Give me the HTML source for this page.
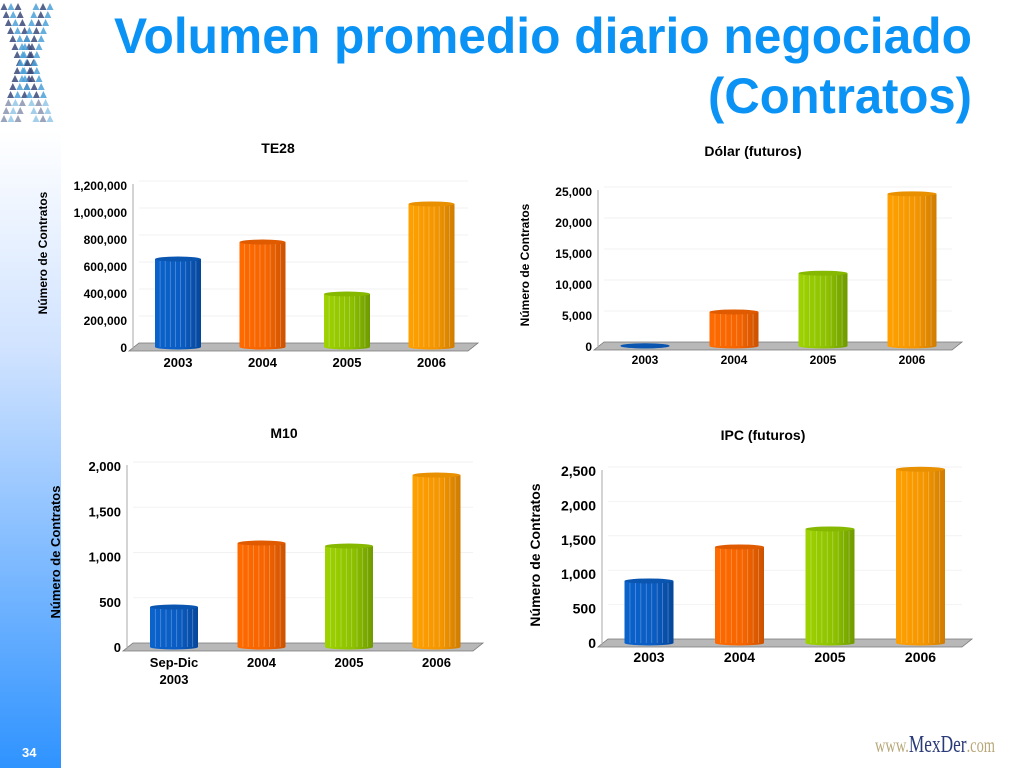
<!DOCTYPE html>
<html><head><meta charset="utf-8"><style>
html,body{margin:0;padding:0;background:#fff;}
svg{display:block;font-family:"Liberation Sans",Arial,sans-serif;}
</style></head><body>
<svg id="s" width="1024" height="768" viewBox="0 0 1024 768">
<defs>
<linearGradient id="side" x1="0" y1="0" x2="0" y2="1">
<stop offset="0" stop-color="#ffffff"/><stop offset="0.35" stop-color="#cfe2ff"/><stop offset="1" stop-color="#2f93ff"/>
</linearGradient>
<linearGradient id="gBlue" x1="0" x2="1"><stop offset="0" stop-color="#0a62cc"/><stop offset="0.6" stop-color="#0a5cc2"/><stop offset="1" stop-color="#06469a"/></linearGradient>
<linearGradient id="gOrange" x1="0" x2="1"><stop offset="0" stop-color="#ff6a00"/><stop offset="0.6" stop-color="#f56400"/><stop offset="1" stop-color="#cc5200"/></linearGradient>
<linearGradient id="gGreen" x1="0" x2="1"><stop offset="0" stop-color="#9ed300"/><stop offset="0.6" stop-color="#8cc000"/><stop offset="1" stop-color="#6f9a00"/></linearGradient>
<linearGradient id="gAmber" x1="0" x2="1"><stop offset="0" stop-color="#ffa000"/><stop offset="0.6" stop-color="#f39500"/><stop offset="1" stop-color="#cf7c00"/></linearGradient>
</defs>
<rect x="0" y="130" width="61" height="638" fill="url(#side)"/>
<text x="22" y="757" font-size="13" font-weight="bold" fill="#fff">34</text>
<g id="logo"></g>
<text x="972" y="53" text-anchor="end" font-size="50" font-weight="bold" fill="#0a93f5" textLength="858" lengthAdjust="spacingAndGlyphs">Volumen promedio diario negociado</text>
<text x="972" y="113" text-anchor="end" font-size="50" font-weight="bold" fill="#0a93f5" textLength="264" lengthAdjust="spacingAndGlyphs">(Contratos)</text>
<text x="875" y="752" font-family="Liberation Serif,serif" font-size="20" fill="#b8a878" textLength="120" lengthAdjust="spacingAndGlyphs">www.<tspan fill="#2a3a78" font-size="24">MexDer</tspan>.com</text>
</svg>
<script>
// ---- data ----
const te28Categories = ["2003","2004","2005","2006"];
const te28Values = [659000, 785000, 400000, 1067000];
const te28Ticks = [0,200000,400000,600000,800000,1000000,1200000];
const dolarCategories = ["2003","2004","2005","2006"];
const dolarValues = [200, 5650, 11900, 24700];
const dolarTicks = [0,5000,10000,15000,20000,25000];
const m10Categories = ["Sep-Dic|2003","2004","2005","2006"];
const m10Values = [453, 1160, 1127, 1911];
const m10Ticks = [0,500,1000,1500,2000];
const ipcCategories = ["2003","2004","2005","2006"];
const ipcValues = [916, 1410, 1672, 2540];
const ipcTicks = [0,500,1000,1500,2000,2500];

const NS="http://www.w3.org/2000/svg";
const svg=document.getElementById('s');
function mk(tag,attrs,parent){const e=document.createElementNS(NS,tag);for(const k in attrs)e.setAttribute(k,attrs[k]);(parent||svg).appendChild(e);return e;}
const fills=["url(#gBlue)","url(#gOrange)","url(#gGreen)","url(#gAmber)"];
const tops=["#0a55b0","#e05a00","#86b800","#e89000"];
const fmt=v=>v.toLocaleString('en-US');

function chart(cfg,cats,vals,ticks){
  const g=mk('g',{});
  
  
  const max=ticks[ticks.length-1];
  const y=v=>cfg.y0-(v/max)*(cfg.y0-cfg.yTop);
  const xc=i=>cfg.x0+cfg.firstC+i*cfg.step;
  ticks.forEach((t,i)=>{ if(i===0)return;
    const l=mk('line',{x1:cfg.x0+6,x2:cfg.xEnd,y1:y(t)-5,y2:y(t)-5,stroke:'#f2f2f2','stroke-width':1},g);
    
    
  });
  const f=mk('polygon',{points:`${cfg.x0-4},${cfg.y0+3} ${cfg.xEnd},${cfg.y0+3} ${cfg.xEnd+10},${cfg.y0-5} ${cfg.x0+6},${cfg.y0-5}`,fill:'#b8b8b8',stroke:'#777','stroke-width':0.8},g);
  
  
  const ax=mk('line',{x1:cfg.x0,x2:cfg.x0,y1:cfg.yTop-2,y2:cfg.y0+3,stroke:'#aaa','stroke-width':1},g);
  
  
  ticks.forEach(t=>{
    const tx=mk('text',{x:cfg.x0-6,y:y(t)+4,'text-anchor':'end','font-size':cfg.tf,'font-weight':'bold',fill:'#000'},g);
    tx.textContent=fmt(t);
    
    
  });
  vals.forEach((v,i)=>{
    const bw=cfg.bw, cx=xc(i), x=cx-bw/2, top=y(v), bot=cfg.y0-1;
    const b=mk('g',{},g);
    
    
    mk('rect',{x:x,y:top,width:bw,height:Math.max(0,bot-top),fill:fills[i]},b);
    mk('ellipse',{cx:cx,cy:bot,rx:bw/2,ry:2.5,fill:fills[i]},b);
    for(let k=1;k<9;k++){const lx=x+k*bw/9;
      mk('line',{x1:lx,x2:lx,y1:top+2,y2:bot,stroke:'rgba(255,255,255,0.3)','stroke-width':0.8},b);}
    mk('ellipse',{cx:cx,cy:top,rx:bw/2,ry:2.5,fill:tops[i]},b);
  });
  cats.forEach((c,i)=>{
    c.split('|').forEach((p,j)=>{
      const tx=mk('text',{x:xc(i),y:cfg.xly+j*17,'text-anchor':'middle','font-size':cfg.xf,'font-weight':'bold',fill:'#000'},g);
      tx.textContent=p;
      
      
    });
  });
  const ti=mk('text',{x:cfg.tx,y:cfg.ty,'text-anchor':'middle','font-size':14,'font-weight':'bold',fill:'#000'},g);
  ti.textContent=cfg.title;
  
  
  const yt=mk('text',{x:0,y:0,'text-anchor':'middle','font-size':cfg.ytf,'font-weight':'bold',fill:'#000',transform:`translate(${cfg.ytx},${cfg.yty}) rotate(-90)`},g);
  yt.textContent='Número de Contratos';
  
  
}
chart({name:'te28',title:'TE28',x0:133,xEnd:468,y0:348,yTop:186,firstC:45,step:84.5,bw:46,tf:12,xf:13,xly:367,tx:278,ty:153,ytx:47,yty:253,ytf:12},te28Categories,te28Values,te28Ticks);
chart({name:'dolar',title:'Dólar (futuros)',x0:598,xEnd:952,y0:347,yTop:192,firstC:47,step:89,bw:49,tf:12,xf:12,xly:364,tx:753,ty:156,ytx:529,yty:265,ytf:12},dolarCategories,dolarValues,dolarTicks);
chart({name:'m10',title:'M10',x0:127,xEnd:473,y0:648,yTop:467,firstC:47,step:87.5,bw:48,tf:13,xf:13,xly:667,tx:284,ty:438,ytx:60,yty:552,ytf:13},m10Categories,m10Values,m10Ticks);
chart({name:'ipc',title:'IPC (futuros)',x0:602,xEnd:962,y0:644,yTop:472,firstC:47,step:90.5,bw:49,tf:14,xf:14,xly:662,tx:763,ty:440,ytx:540,yty:555,ytf:14},ipcCategories,ipcValues,ipcTicks);

// logo: X of small triangles
const logo=document.getElementById('logo');
for(let r=0;r<15;r++){
  const yy=3+r*8;
  const d=Math.abs(r-7);
  const cols=[4+(7-d)*2.2, 36-(7-d)*2.2];
  const op=r>11?0.5:0.85;
  cols.forEach((cx0,ci)=>{
    for(let k=0;k<3;k++){
      const cx=cx0+k*7;
      mk('polygon',{points:`${cx},${yy} ${cx-3.5},${yy+7} ${cx+3.5},${yy+7}`,fill:(ci+k)%2?'#4aa0d8':'#3a4a7a',opacity:op},logo);
    }
  });
}
</script>
</body></html>
